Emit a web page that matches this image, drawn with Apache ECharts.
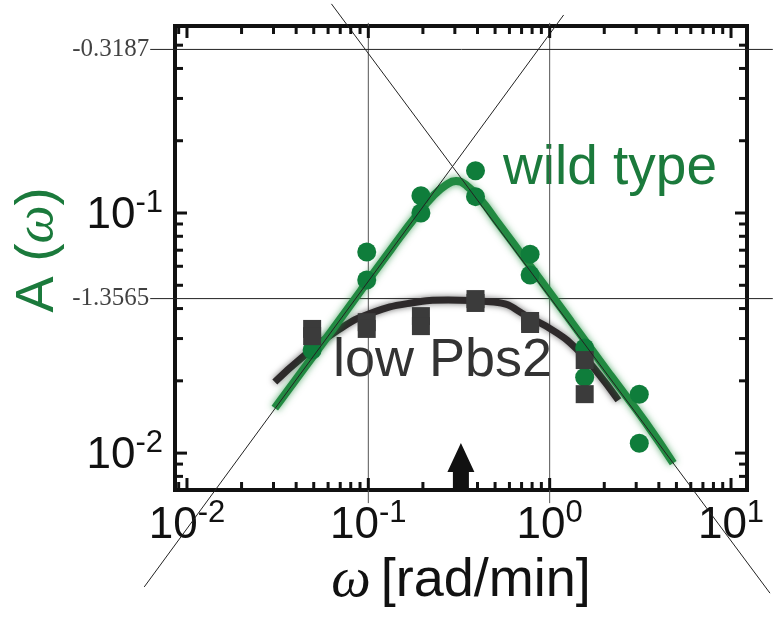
<!DOCTYPE html>
<html>
<head>
<meta charset="utf-8">
<script src="https://cdn.jsdelivr.net/npm/echarts@6.0.0/dist/echarts.min.js"></script>
<style>
  html, body { margin: 0; padding: 0; background: #fff; }
  #main { width: 773px; height: 620px; }
</style>
</head>
<body>
<div id="main"></div>
<script>
// axis ranges (log10 scale)
var xMin = 0.00859, xMax = 12.25;
var yMin = 0.00702, yMax = 0.601;
var decades = [0.001, 0.01, 0.1, 1, 10];
var minorSteps = [2, 3, 4, 5, 6, 7, 8, 9];

// wild type (circles)
var wildOmega = [0.049, 0.098, 0.098, 0.195, 0.195, 0.39, 0.39, 0.78, 0.78, 1.56, 1.56, 3.12, 3.12];
var wildA = [0.0269, 0.0688, 0.0526, 0.118, 0.100, 0.150, 0.117, 0.0674, 0.0552, 0.0274, 0.0207, 0.0176, 0.0110];

// low Pbs2 (squares)
var lowOmega = [0.049, 0.049, 0.098, 0.098, 0.195, 0.195, 0.39, 0.39, 0.78, 0.78, 1.56, 1.56];
var lowA = [0.0329, 0.0307, 0.0351, 0.0329, 0.0372, 0.0338, 0.0438, 0.0422, 0.0355, 0.0345, 0.0244, 0.0176];

// fitted curves
var wildFitOmega = [0.0305, 0.0428, 0.0626, 0.0915, 0.1338, 0.1836, 0.2276, 0.2683, 0.3044, 0.3499, 0.4178, 0.505, 0.7863, 1.3046, 2.163, 3.37, 4.80];
var wildFitA = [0.0154, 0.0218, 0.0322, 0.0478, 0.0708, 0.0972, 0.1177, 0.1308, 0.1359, 0.1296, 0.1133, 0.0935, 0.0596, 0.0355, 0.0211, 0.01346, 0.00908];
var lowFitOmega = [0.0305, 0.0428, 0.0684, 0.1039, 0.1723, 0.2753, 0.4924, 0.786, 1.079, 1.39, 1.789, 2.393];
var lowFitA = [0.01977, 0.0249, 0.0326, 0.0383, 0.0422, 0.0434, 0.0426, 0.0365, 0.0319, 0.0274, 0.0222, 0.0166];

// asymptotes (slope +1 and -1)
var riseOmega = [0.00581, 1.194];
var riseA = [0.00277, 0.668];
var fallOmega = [0.0626, 16.4];
var fallA = [0.743, 0.00261];

// reference lines
var refLogA = [-0.3187, -1.3565];
var refOmega = [0.00627, 17];
var vertOmega = [0.1, 1];
var vertA = [0.00619, 0.619];

// arrow at the peak frequency
var arrowOmega = 0.324;
var arrowA = 0.00879;

function pairs(xs, ys) {
  return xs.map(function (x, i) { return [x, ys[i]]; });
}

// plot box in pixels
var W = 773, H = 620;
var gl = 175, gr = 26, gt = 26, gb = 130;

// overlay grid over the whole canvas with the same log scale as the plot box
var lx0 = Math.log10(xMin), lx1 = Math.log10(xMax);
var ly0 = Math.log10(yMin), ly1 = Math.log10(yMax);
var xppd = (W - gl - gr) / (lx1 - lx0);
var yppd = (H - gt - gb) / (ly1 - ly0);
var oxMin = Math.pow(10, lx0 - gl / xppd), oxMax = Math.pow(10, lx1 + gr / xppd);
var oyMin = Math.pow(10, ly0 - gb / yppd), oyMax = Math.pow(10, ly1 + gt / yppd);

var xTicks = [], yTicks = [];
decades.forEach(function (d) {
  if (d >= xMin && d <= xMax) xTicks.push([d, yMin, 1]);
  if (d >= yMin && d <= yMax) yTicks.push([xMin, d, 1]);
  minorSteps.forEach(function (k) {
    var v = k * d;
    if (v > xMin && v < xMax) xTicks.push([v, yMin, 0]);
    if (v > yMin && v < yMax) yTicks.push([xMin, v, 0]);
  });
});

function tickLine(x1, y1, x2, y2) {
  return { type: 'line', shape: { x1: x1, y1: y1, x2: x2, y2: y2 }, style: { stroke: '#111', lineWidth: 3 } };
}

function renderXTick(params, api) {
  var v = api.value(0);
  var len = api.value(2) === 1 ? 12 : 8;
  var b = api.coord([v, yMin]);
  var t = api.coord([v, yMax]);
  return { type: 'group', children: [
    tickLine(b[0], b[1], b[0], b[1] - len),
    tickLine(t[0], t[1], t[0], t[1] + len)
  ] };
}

function renderYTick(params, api) {
  var v = api.value(1);
  var len = api.value(2) === 1 ? 12 : 8;
  var l = api.coord([xMin, v]);
  var r = api.coord([xMax, v]);
  return { type: 'group', children: [
    tickLine(l[0], l[1], l[0] + len, l[1]),
    tickLine(r[0], r[1], r[0] - len, r[1])
  ] };
}

function powLabel(v) {
  var lg = Math.log10(v);
  var e = Math.round(lg);
  if (Math.abs(lg - e) > 1e-6) return '';
  return '{b|10}{s|' + e + '}';
}

var labelRich = {
  b: { fontFamily: 'Liberation Sans', fontSize: 44, color: '#111', lineHeight: 50, verticalAlign: 'bottom' },
  s: { fontFamily: 'Liberation Sans', fontSize: 31, color: '#111', lineHeight: 50, verticalAlign: 'top' }
};

var thinLine = { color: '#222', width: 1 };
var series = [];

// vertical reference lines
vertOmega.forEach(function (w) {
  series.push({
    type: 'line', xAxisIndex: 1, yAxisIndex: 1, clip: false, silent: true, symbol: 'none', z: 1,
    lineStyle: { color: '#555', width: 1 },
    data: [[w, vertA[0]], [w, vertA[1]]]
  });
});

// horizontal reference lines with labels
refLogA.forEach(function (lg) {
  var a = Math.pow(10, lg);
  series.push({
    type: 'line', xAxisIndex: 1, yAxisIndex: 1, clip: false, silent: true, symbol: 'none', z: 1,
    lineStyle: { color: '#222', width: 1 },
    data: [[refOmega[0], a], [refOmega[1], a]]
  });
  series.push({
    type: 'scatter', xAxisIndex: 1, yAxisIndex: 1, clip: false, silent: true, symbolSize: 0,
    data: [[refOmega[0], a]],
    label: {
      show: true, position: 'left', distance: 1,
      formatter: String(lg),
      fontFamily: 'Liberation Serif', fontSize: 25, color: '#111'
    }
  });
});

series.push({
  name: 'low Pbs2 fit', type: 'line', smooth: true, symbol: 'none', silent: true, z: 2,
  lineStyle: { color: '#2e2a2b', width: 7, shadowBlur: 6, shadowColor: 'rgba(0,0,0,0.55)' },
  data: pairs(lowFitOmega, lowFitA)
});
series.push({
  name: 'wild type fit', type: 'line', smooth: true, symbol: 'none', silent: true, z: 3,
  lineStyle: { color: '#228a42', width: 8, shadowBlur: 7, shadowColor: 'rgba(30,140,60,0.7)' },
  data: pairs(wildFitOmega, wildFitA)
});
series.push({
  name: 'wild type', type: 'scatter', symbol: 'circle', symbolSize: 19, z: 4,
  itemStyle: { color: '#0f7d3b', opacity: 1 },
  data: pairs(wildOmega, wildA)
});
series.push({
  name: 'low Pbs2', type: 'scatter', symbol: 'rect', symbolSize: 18, z: 5,
  itemStyle: { color: '#3b3b3b', opacity: 1 },
  data: pairs(lowOmega, lowA)
});
series.push({
  type: 'line', xAxisIndex: 1, yAxisIndex: 1, clip: false, silent: true, symbol: 'none', z: 6,
  lineStyle: thinLine, data: pairs(riseOmega, riseA)
});
series.push({
  type: 'line', xAxisIndex: 1, yAxisIndex: 1, clip: false, silent: true, symbol: 'none', z: 6,
  lineStyle: thinLine, data: pairs(fallOmega, fallA)
});
series.push({
  type: 'scatter', clip: false, silent: true, z: 6,
  symbol: 'path://M13.5,0 L27,29 L21.5,29 L21.5,47 L5.5,47 L5.5,29 L0,29 Z',
  symbolSize: [27, 47], symbolKeepAspect: false,
  itemStyle: { color: '#111', opacity: 1 },
  data: [[arrowOmega, arrowA]]
});
series.push({ type: 'custom', silent: true, z: 7, renderItem: renderXTick, data: xTicks });
series.push({ type: 'custom', silent: true, z: 7, renderItem: renderYTick, data: yTicks });

var chart = echarts.init(document.getElementById('main'));
chart.setOption({
  animation: false,
  backgroundColor: '#fff',
  grid: [
    { left: gl, right: gr, top: gt, bottom: gb, show: true, borderColor: '#111', borderWidth: 4 },
    { left: 0, right: 0, top: 0, bottom: 0, show: false }
  ],
  xAxis: [{
    type: 'log', logBase: 10, min: xMin, max: xMax,
    axisLine: { show: false }, axisTick: { show: false }, splitLine: { show: false },
    axisLabel: { margin: 8, formatter: powLabel, rich: labelRich, showMinLabel: false, showMaxLabel: false },
    name: '{w|ω}{a|[rad/min]}', nameLocation: 'middle', nameGap: 62,
    nameTextStyle: {
      rich: {
        w: { fontFamily: 'Liberation Serif', fontStyle: 'italic', fontSize: 56, color: '#111', padding: [0, 10, 0, 0] },
        a: { fontFamily: 'Liberation Sans', fontSize: 54, color: '#111' }
      }
    }
  }, {
    type: 'log', logBase: 10, gridIndex: 1, min: oxMin, max: oxMax, show: false
  }],
  yAxis: [{
    type: 'log', logBase: 10, min: yMin, max: yMax,
    axisLine: { show: false }, axisTick: { show: false }, splitLine: { show: false },
    axisLabel: { margin: 12, formatter: powLabel, rich: labelRich, showMinLabel: false, showMaxLabel: false },
    name: '{a0|A (}{w|ω}{a|)}', nameLocation: 'middle', nameGap: 110, nameRotate: 90,
    nameTextStyle: {
      rich: {
        a0: { fontFamily: 'Liberation Sans', fontSize: 54, color: '#1b7a3c', padding: [0, 0, 0, 16] },
        a: { fontFamily: 'Liberation Sans', fontSize: 54, color: '#1b7a3c' },
        w: { fontFamily: 'Liberation Serif', fontStyle: 'italic', fontSize: 54, color: '#1b7a3c' }
      }
    }
  }, {
    type: 'log', logBase: 10, gridIndex: 1, min: oyMin, max: oyMax, show: false
  }],
  graphic: [
    { type: 'text', left: 503, top: 141, silent: true,
      style: { text: 'wild type', font: '55px "Liberation Sans"', fill: '#1b7a3c' } },
    { type: 'text', left: 333, top: 334, silent: true,
      style: { text: 'low Pbs2', font: '54px "Liberation Sans"', fill: '#333' } }
  ],
  series: series
});
</script>
</body>
</html>
